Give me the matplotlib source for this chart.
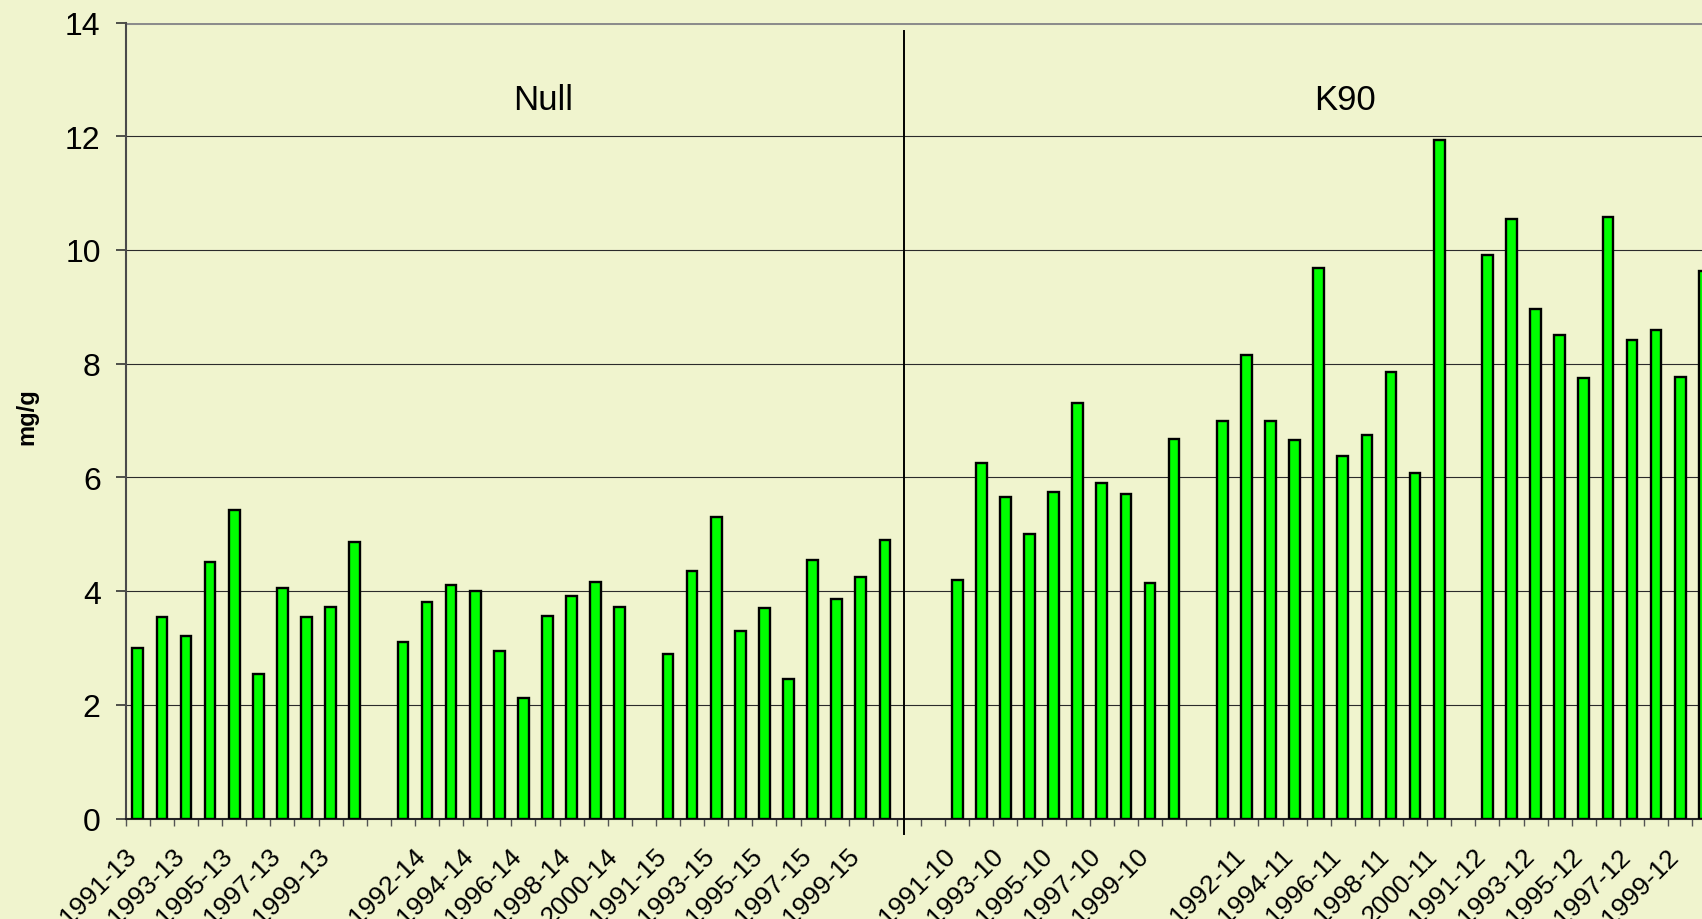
import numpy as np
import matplotlib
matplotlib.use("Agg")
import matplotlib.pyplot as plt
import matplotlib.transforms as mtransforms

plt.rcParams['font.family'] = ['Liberation Sans', 'DejaVu Sans']

# ---- data ----
years = [1991, 1992, 1993, 1994, 1995, 1996, 1997, 1998, 1999, 2000]
null_stations = ['13', '14', '15']
k90_stations = ['10', '11', '12']

values_13 = [3.00, 3.55, 3.21, 4.51, 5.43, 2.54, 4.05, 3.55, 3.72, 4.87]
values_14 = [3.11, 3.80, 4.11, 4.01, 2.94, 2.12, 3.57, 3.92, 4.16, 3.72]
values_15 = [2.90, 4.35, 5.31, 3.30, 3.71, 2.46, 4.55, 3.86, 4.24, 4.89]
values_10 = [4.20, 6.26, 5.65, 5.00, 5.75, 7.31, 5.90, 5.71, 4.14, 6.68]
values_11 = [6.99, 8.16, 6.99, 6.65, 9.68, 6.38, 6.74, 7.85, 6.07, 11.94]
values_12 = [9.91, 10.54, 8.96, 8.50, 7.75, 10.58, 8.42, 8.59, 7.77, 9.63]

group_names = ['Null', 'K90']
y_ticks = [0, 2, 4, 6, 8, 10, 12, 14]
y_label = 'mg/g'

series = {'13': values_13, '14': values_14, '15': values_15,
          '10': values_10, '11': values_11, '12': values_12}

# build category axis (blank slot after each station, extra blank between sections)
categories = []
vals = []
for section in (null_stations, k90_stations):
    for st in section:
        for y, v in zip(years, series[st]):
            categories.append(f'{y}-{st}')
            vals.append(v)
        categories.append('')
        vals.append(np.nan)
    if section is null_stations:
        categories.append('')
        vals.append(np.nan)

x = np.arange(len(categories))
vals = np.array(vals)

# ---- figure ----
bg = '#F0F4CE'
fig = plt.figure(figsize=(17.02, 9.20), dpi=100, facecolor=bg)
W, H = 1702, 920
px_per_cat = 24.1
left_px = 125.75
ax = fig.add_axes([left_px / W, 1 - 819.5 / H,
                   len(categories) * px_per_cat / W, (819.5 - 23.5) / H])
ax.set_facecolor(bg)

mask = ~np.isnan(vals)
ax.bar(x[mask], vals[mask], width=0.44, color='#00FF00', edgecolor='black',
       linewidth=1.7, zorder=3)

ax.set_xlim(-0.5, len(categories) - 0.5)
ax.set_ylim(0, 14)

# gridlines
for yt in y_ticks[1:-1]:
    ax.axhline(yt, color='#2b2b2b', lw=0.8, zorder=1)
ax.axhline(14, color='#8c8c8c', lw=2.2, zorder=1)

# spines
for s in ('top', 'right'):
    ax.spines[s].set_visible(False)
ax.spines['left'].set_color('#4a4a4a')
ax.spines['left'].set_linewidth(1.5)
ax.spines['bottom'].set_color('#222222')
ax.spines['bottom'].set_linewidth(1.5)

# y ticks
ax.set_yticks(y_ticks)
ax.set_yticklabels([str(t) for t in y_ticks])
ax.tick_params(axis='y', direction='out', length=7, width=1.2, color='#333333',
               pad=11, labelsize=23)

# x ticks: boundaries as major (no labels), labels on every other category
ax.set_xticks(np.arange(-0.5, len(categories) - 0.4, 1.0))
ax.set_xticklabels([])
ax.tick_params(axis='x', which='major', direction='out', length=5, width=1.0,
               color='#555555')
lab_idx = np.arange(0, len(categories), 2)
ax.set_xticks(lab_idx, minor=True)
ax.set_xticklabels([categories[i] for i in lab_idx], minor=True)
ax.tick_params(axis='x', which='minor', length=0, pad=18, labelsize=19)
shift = mtransforms.ScaledTranslation(-14 / 100, 0, fig.dpi_scale_trans)
for t in ax.get_xticklabels(minor=True):
    t.set_rotation(45)
    t.set_ha('right')
    t.set_va('top')
    t.set_rotation_mode('anchor')
    t.set_transform(t.get_transform() + shift)

# y label
fig.text(27 / W, 1 - 417 / H, y_label, rotation=90, fontsize=17,
         fontweight='bold', ha='center', va='center')

# section labels
group_label_x = [16.8, 50.1]
for name, gx in zip(group_names, group_label_x):
    ax.text(gx, 12.65, name, fontsize=25, ha='center', va='center', zorder=4)

# divider between sections
div_x = 31.8
ax.plot([div_x, div_x], [-0.28, 13.85], color='black', lw=1.4, clip_on=False,
        zorder=4)

fig.savefig('out.png', dpi=100, facecolor=bg)
